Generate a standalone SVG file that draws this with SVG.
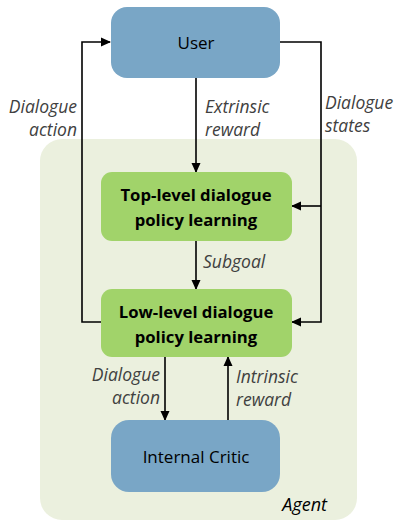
<svg xmlns="http://www.w3.org/2000/svg" width="395" height="521" viewBox="0 0 395 521">
<defs>
<marker id="ah" markerWidth="10" markerHeight="10" refX="9" refY="5" orient="auto" markerUnits="userSpaceOnUse"><path d="M0,0.5 L10,5 L0,9.5 Z" fill="#000"/></marker>
<style>
.blue{fill:#79A6C6}
.green{fill:#A1D36A}
.lbl{font-family:"Open Sans",sans-serif;font-size:17px;fill:#000}
.b{font-weight:bold;font-size:16.7px}
.it{font-family:"Open Sans",sans-serif;font-size:17.5px;font-style:italic;fill:#404040}
.ln{stroke:#000;stroke-width:1.6;fill:none}
</style>
</defs>
<rect id="agent" x="40" y="139" width="317" height="381" rx="22" fill="#EBF0DE"/>
<g id="connectors">
<path class="ln" d="M101,322 H82 V42 H110" marker-end="url(#ah)"/>
<path class="ln" d="M280,42 H321 V322 H292" marker-end="url(#ah)"/>
<path class="ln" d="M321,206 H292" marker-end="url(#ah)"/>
<path class="ln" d="M196,78 V172" marker-end="url(#ah)"/>
<path class="ln" d="M196,241 V289" marker-end="url(#ah)"/>
<path class="ln" d="M165,357 V420" marker-end="url(#ah)"/>
<path class="ln" d="M228,420 V357" marker-end="url(#ah)"/>
</g>
<g id="user"><rect class="blue" x="111" y="7" width="169" height="71" rx="16"/><text class="lbl" x="196" y="49" text-anchor="middle">User</text></g>
<g id="top"><rect class="green" x="101" y="172" width="191" height="69" rx="11"/><text class="lbl b" x="196" y="201" text-anchor="middle">Top-level dialogue</text><text class="lbl b" x="196" y="226" text-anchor="middle">policy learning</text></g>
<g id="low"><rect class="green" x="101" y="289" width="191" height="68" rx="11"/><text class="lbl b" x="196" y="318" text-anchor="middle">Low-level dialogue</text><text class="lbl b" x="196" y="343" text-anchor="middle">policy learning</text></g>
<g id="critic"><rect class="blue" x="111" y="420" width="169" height="72" rx="18"/><text class="lbl" x="196" y="463" text-anchor="middle">Internal Critic</text></g>
<g id="labels">
<text class="it" x="77" y="113" text-anchor="end">Dialogue</text>
<text class="it" x="77" y="136" text-anchor="end">action</text>
<text class="it" x="205" y="113">Extrinsic</text>
<text class="it" x="205" y="136">reward</text>
<text class="it" x="325" y="109">Dialogue</text>
<text class="it" x="325" y="132">states</text>
<text class="it" x="203" y="268">Subgoal</text>
<text class="it" x="160" y="381" text-anchor="end">Dialogue</text>
<text class="it" x="160" y="404" text-anchor="end">action</text>
<text class="it" x="236" y="383">Intrinsic</text>
<text class="it" x="236" y="406">reward</text>
<text x="327" y="511" text-anchor="end" style="font-family:'Open Sans',sans-serif;font-size:18px;font-style:italic;fill:#000">Agent</text>
</g>
</svg>
